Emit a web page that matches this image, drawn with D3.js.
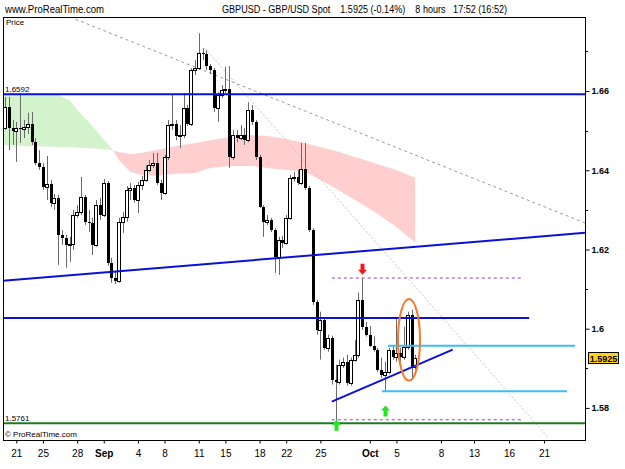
<!DOCTYPE html>
<html>
<head>
<meta charset="utf-8">
<script src="https://cdn.jsdelivr.net/npm/d3@7"></script>
<style>
body { margin: 0; background: #fff; }
svg { display: block; font-family: "Liberation Sans", Arial, sans-serif; }
text { white-space: pre; }
</style>
</head>
<body>
<svg id="chart" width="625" height="469"></svg>
<script>
// 8 hour GBPUSD candles, oldest first
var opens = [
  1.6507, 1.6560, 1.6507, 1.6499, 1.6507, 1.6504, 1.6509, 1.6517, 1.6471, 1.6418,
  1.6408, 1.6358, 1.6365, 1.6318, 1.6330, 1.6237, 1.6229, 1.6212, 1.6214, 1.6287,
  1.6295, 1.6333, 1.6270, 1.6268, 1.6212, 1.6312, 1.6287, 1.6368, 1.6166, 1.6128,
  1.6121, 1.6270, 1.6282, 1.6350, 1.6355, 1.6325, 1.6363, 1.6376, 1.6401, 1.6413,
  1.6418, 1.6368, 1.6343, 1.6434, 1.6514, 1.6517, 1.6487, 1.6489, 1.6557, 1.6517,
  1.6653, 1.6658, 1.6696, 1.6693, 1.6663, 1.6653, 1.6557, 1.6590, 1.6603, 1.6605,
  1.6434, 1.6489, 1.6481, 1.6489, 1.6476, 1.6552, 1.6522, 1.6434, 1.6307, 1.6270,
  1.6275, 1.6249, 1.6181, 1.6224, 1.6217, 1.6280, 1.6381, 1.6383, 1.6368, 1.6403,
  1.6355, 1.6249, 1.6068, 1.5997, 1.6022, 1.5952, 1.5977, 1.5871, 1.5866, 1.5909,
  1.5917, 1.5864, 1.5922, 1.5934, 1.6073, 1.6005, 1.5985, 1.5957, 1.5947, 1.5896,
  1.5884, 1.5891, 1.5947, 1.5929, 1.5939, 1.5929, 1.5954, 1.6035, 1.5904
];
var highs = [
  1.6585, 1.6585, 1.6527, 1.6522, 1.6595, 1.6527, 1.6545, 1.6547, 1.6481, 1.6451,
  1.6418, 1.6436, 1.6376, 1.6340, 1.6338, 1.6249, 1.6237, 1.6232, 1.6300, 1.6312,
  1.6383, 1.6338, 1.6300, 1.6280, 1.6325, 1.6330, 1.6378, 1.6373, 1.6179, 1.6144,
  1.6280, 1.6295, 1.6360, 1.6368, 1.6363, 1.6371, 1.6386, 1.6413, 1.6426, 1.6444,
  1.6444, 1.6376, 1.6439, 1.6527, 1.6590, 1.6527, 1.6514, 1.6595, 1.6565, 1.6658,
  1.6678, 1.6746, 1.6708, 1.6703, 1.6668, 1.6658, 1.6597, 1.6615, 1.6661, 1.6663,
  1.6502, 1.6502, 1.6514, 1.6507, 1.6572, 1.6565, 1.6527, 1.6439, 1.6312, 1.6287,
  1.6280, 1.6254, 1.6232, 1.6234, 1.6287, 1.6388, 1.6396, 1.6401, 1.6469, 1.6469,
  1.6360, 1.6254, 1.6073, 1.6043, 1.6027, 1.5985, 1.5982, 1.5909, 1.5922, 1.5927,
  1.5934, 1.5927, 1.5972, 1.6091, 1.6128, 1.6017, 1.6007, 1.5980, 1.5952, 1.5927,
  1.5917, 1.5952, 1.5957, 1.6027, 1.5952, 1.6005, 1.6043, 1.6048, 1.5934
];
var lows = [
  1.6502, 1.6451, 1.6464, 1.6421, 1.6469, 1.6481, 1.6492, 1.6464, 1.6413, 1.6401,
  1.6350, 1.6325, 1.6307, 1.6300, 1.6161, 1.6212, 1.6154, 1.6169, 1.6199, 1.6280,
  1.6287, 1.6262, 1.6244, 1.6186, 1.6207, 1.6275, 1.6282, 1.6159, 1.6116, 1.6113,
  1.6116, 1.6242, 1.6270, 1.6325, 1.6318, 1.6292, 1.6350, 1.6371, 1.6396, 1.6406,
  1.6363, 1.6325, 1.6338, 1.6426, 1.6502, 1.6476, 1.6456, 1.6481, 1.6512, 1.6512,
  1.6640, 1.6653, 1.6678, 1.6653, 1.6643, 1.6547, 1.6522, 1.6582, 1.6595, 1.6406,
  1.6426, 1.6471, 1.6476, 1.6464, 1.6471, 1.6514, 1.6426, 1.6305, 1.6232, 1.6262,
  1.6244, 1.6141, 1.6136, 1.6204, 1.6212, 1.6275, 1.6371, 1.6363, 1.6363, 1.6350,
  1.6244, 1.6060, 1.5985, 1.5922, 1.5947, 1.5942, 1.5859, 1.5761, 1.5859, 1.5901,
  1.5856, 1.5856, 1.5917, 1.5927, 1.5997, 1.5980, 1.5954, 1.5942, 1.5891, 1.5876,
  1.5841, 1.5886, 1.5922, 1.5917, 1.5917, 1.5922, 1.5947, 1.5871, 1.5896
];
var closes = [
  1.6560, 1.6507, 1.6499, 1.6507, 1.6504, 1.6509, 1.6517, 1.6471, 1.6418, 1.6408,
  1.6358, 1.6365, 1.6318, 1.6330, 1.6237, 1.6229, 1.6212, 1.6214, 1.6287, 1.6295,
  1.6333, 1.6270, 1.6268, 1.6212, 1.6312, 1.6287, 1.6368, 1.6166, 1.6128, 1.6121,
  1.6270, 1.6282, 1.6350, 1.6355, 1.6325, 1.6363, 1.6376, 1.6401, 1.6413, 1.6418,
  1.6368, 1.6343, 1.6434, 1.6514, 1.6517, 1.6487, 1.6489, 1.6557, 1.6517, 1.6653,
  1.6658, 1.6696, 1.6693, 1.6663, 1.6653, 1.6557, 1.6590, 1.6603, 1.6605, 1.6434,
  1.6489, 1.6481, 1.6489, 1.6476, 1.6552, 1.6522, 1.6434, 1.6307, 1.6270, 1.6275,
  1.6249, 1.6181, 1.6224, 1.6217, 1.6280, 1.6381, 1.6383, 1.6368, 1.6403, 1.6355,
  1.6249, 1.6068, 1.5997, 1.6022, 1.5952, 1.5977, 1.5871, 1.5866, 1.5909, 1.5917,
  1.5864, 1.5922, 1.5934, 1.6073, 1.6005, 1.5985, 1.5957, 1.5947, 1.5896, 1.5884,
  1.5891, 1.5947, 1.5929, 1.5939, 1.5929, 1.5954, 1.6035, 1.5904, 1.5925
];

// cloud (two spans), sampled at candle indices
var cloudIdx = [-0.5, 5, 10, 14, 17, 20, 23, 25, 28, 30, 33, 36, 40, 45, 50, 54, 59, 65, 69, 74, 79, 83, 88, 93, 98, 103, 108];
var spanA = [1.6595, 1.6595, 1.6595, 1.6590, 1.6577, 1.6542, 1.6512, 1.6489, 1.6456, 1.6426, 1.6396, 1.6388, 1.6386, 1.6391,
             1.6393, 1.6406, 1.6411, 1.6411, 1.6406, 1.6401, 1.6396, 1.6376, 1.6348, 1.6320, 1.6290, 1.6257, 1.6217];
var spanB = [1.6464, 1.6461, 1.6460, 1.6459, 1.6459, 1.6456, 1.6455, 1.6454, 1.6451, 1.6446, 1.6441, 1.6444, 1.6451, 1.6461,
             1.6469, 1.6476, 1.6484, 1.6489, 1.6487, 1.6479, 1.6469, 1.6459, 1.6446, 1.6431, 1.6416, 1.6401, 1.6381];

// time axis (candle index of each label; right part is future space)
var tickLabels = ["21", "25", "28", "Sep", "4", "8", "11", "15", "18", "22", "25", "Oct", "5", "8", "13", "16", "21"];
var tickIndex = [3, 10, 19, 26, 35, 42, 51, 58, 67, 74, 83, 96, 103, 114.7, 123.4, 132.6, 141.8];
var priceTicks = [1.58, 1.60, 1.62, 1.64, 1.66];
var priceMinor = [1.59, 1.61, 1.63, 1.65, 1.67];

// drawn objects: [index, price] end points
var topLevel = 1.6592, lowLevel = 1.5761, lastPrice = 1.5925;
var neckLine = [[-0.5, 1.6027], [137.9, 1.6027]];
var supportLine = [[-0.5, 1.6121], [152.6, 1.6242]];
var fallingLine = [[17.1, 1.6787], [152.6, 1.6267]];
var steepLine = [[52.6, 1.6708], [143.2, 1.5722]];
var triangleLine = [[86, 1.5816], [117.8, 1.5947]];
var rangeLines = [[[86, 1.6128], [136, 1.6128]], [[86, 1.5770], [136, 1.5770]]];
var cyanLines = [[[100.8, 1.5957], [150, 1.5957]], [[99.2, 1.5842], [147.9, 1.5842]]];
var downArrows = [[94, 1.6136]];
var upArrows = [[87, 1.5770], [100, 1.5806]];
var ellipseAt = [106.3, 1.5972], ellipseHalf = [2.9, 0.0103];

var svg = d3.select("#chart");
var L = 3, T = 17, R = 585, B = 440;

var x = d3.scaleLinear().domain([-0.5, 152.6]).range([L, R]);
var y = d3.scaleLinear().domain([1.5719, 1.6787]).range([B, T]);

svg.append("defs").append("clipPath").attr("id", "plotclip")
  .append("rect").attr("x", L).attr("y", T).attr("width", R - L).attr("height", B - T);

var plot = svg.append("g").attr("clip-path", "url(#plotclip)");

// cloud: green where span A is above span B, pink where below
var cloud = cloudIdx.map(function(d, k) { return {i: d, a: spanA[k], b: spanB[k]}; });
var defs = svg.select("defs");
defs.append("clipPath").attr("id", "aboveB").append("path")
  .attr("d", d3.area().x(function(d) { return x(d.i); }).y0(T).y1(function(d) { return y(d.b); })(cloud));
defs.append("clipPath").attr("id", "belowB").append("path")
  .attr("d", d3.area().x(function(d) { return x(d.i); }).y0(B).y1(function(d) { return y(d.b); })(cloud));
var band = d3.area().x(function(d) { return x(d.i); })
  .y0(function(d) { return y(d.a); }).y1(function(d) { return y(d.b); });
plot.append("g").attr("clip-path", "url(#aboveB)").append("path")
  .attr("d", band(cloud)).attr("fill", "#d3f3cd");
plot.append("g").attr("clip-path", "url(#belowB)").append("path")
  .attr("d", band(cloud)).attr("fill", "#ffcece");

function seg(g, pts, color, width, dash) {
  g.append("line")
    .attr("x1", x(pts[0][0])).attr("y1", y(pts[0][1]))
    .attr("x2", x(pts[1][0])).attr("y2", y(pts[1][1]))
    .attr("stroke", color).attr("stroke-width", width)
    .attr("stroke-dasharray", dash || null);
}

seg(plot, fallingLine, "#9a9a9a", 1, "3,3");
seg(plot, steepLine, "#c4c4c4", 1, "2,2");

// candles
var candles = closes.map(function(c, i) {
  return {i: i, o: opens[i], h: highs[i], l: lows[i], c: c};
});
var cg = plot.append("g");
cg.selectAll("line").data(candles).enter().append("line")
  .attr("x1", function(d) { return Math.round(x(d.i)) + 0.5; })
  .attr("x2", function(d) { return Math.round(x(d.i)) + 0.5; })
  .attr("y1", function(d) { return y(d.h); })
  .attr("y2", function(d) { return y(d.l); })
  .attr("stroke", "#6a6a6a").attr("stroke-width", 1);
cg.selectAll("rect").data(candles).enter().append("rect")
  .each(function(d) {
    var cx = Math.round(x(d.i));
    var top = Math.round(y(Math.max(d.o, d.c))), bot = Math.round(y(Math.min(d.o, d.c)));
    var r = d3.select(this);
    if (d.c >= d.o) {
      r.attr("x", cx - 1.5).attr("y", top + 0.5).attr("width", 4 - 1)
        .attr("height", Math.max(bot - top, 1))
        .attr("fill", "#fff").attr("stroke", "#000").attr("stroke-width", 1);
    } else {
      r.attr("x", cx - 1).attr("y", top).attr("width", 3)
        .attr("height", Math.max(bot - top, 1)).attr("fill", "#000");
    }
  });

// lines over candles
var blue = "#0a10d8";
seg(plot, [[-0.5, topLevel], [152.6, topLevel]], blue, 2);
seg(plot, neckLine, blue, 2);
seg(plot, supportLine, blue, 2);
seg(plot, [[-0.5, lowLevel], [152.6, lowLevel]], "#1d7a1d", 2);
rangeLines.forEach(function(p) { seg(plot, p, "#9a3ad6", 1, "3,3"); });
cyanLines.forEach(function(p) { seg(plot, p, "#3dbdf0", 2); });
seg(plot, triangleLine, blue, 2);

plot.append("ellipse")
  .attr("cx", x(ellipseAt[0])).attr("cy", y(ellipseAt[1]))
  .attr("rx", x(ellipseAt[0] + ellipseHalf[0]) - x(ellipseAt[0]))
  .attr("ry", y(ellipseAt[1] - ellipseHalf[1]) - y(ellipseAt[1]))
  .attr("fill", "none").attr("stroke", "#f4792f").attr("stroke-width", 2);

// arrows: tip at the given price, 11px long
function arrow(p, dir, color) {
  var cx = Math.round(x(p[0])) + 0.5, tip = y(p[1]);
  var s = -dir; // body goes away from tip
  var pts = [[cx, tip], [cx - 4.5, tip + s * 5], [cx - 2, tip + s * 5], [cx - 2, tip + s * 11],
             [cx + 2, tip + s * 11], [cx + 2, tip + s * 5], [cx + 4.5, tip + s * 5]];
  plot.append("path").attr("d", "M" + pts.join("L") + "Z").attr("fill", color);
}
downArrows.forEach(function(p) { arrow(p, 1, "#f01818"); });
upArrows.forEach(function(p) { arrow(p, -1, "#22e622"); });

// frame
svg.append("rect").attr("x", L + 0.5).attr("y", T + 0.5).attr("width", R - L).attr("height", B - T)
  .attr("fill", "none").attr("stroke", "#000");

// level labels
[topLevel, lowLevel].forEach(function(v) {
  svg.append("text").attr("x", 5).attr("y", y(v) - 2.5).attr("font-size", 8).text(d3.format(".4f")(v));
});

// price axis
var yAxis = svg.append("g").attr("transform", "translate(" + (R + 0.5) + ",0)")
  .call(d3.axisRight(y).tickValues(priceTicks).tickSize(4).tickPadding(2)
    .tickFormat(function(d) { return String(+d.toFixed(2)); }));
yAxis.select(".domain").remove();
yAxis.selectAll("text").attr("font-size", 9).attr("font-weight", "bold").attr("font-family", null).attr("fill", "#000");
svg.append("g").selectAll("line").data(priceMinor).enter().append("line")
  .attr("x1", R).attr("x2", R + 3)
  .attr("y1", function(d) { return Math.round(y(d)) + 0.5; })
  .attr("y2", function(d) { return Math.round(y(d)) + 0.5; })
  .attr("stroke", "#000");

// last price box
var lp = y(lastPrice);
svg.append("rect").attr("x", 588.5).attr("y", Math.round(lp) - 5.5).attr("width", 30).attr("height", 11)
  .attr("fill", "#ffd21a").attr("stroke", "#000");
svg.append("text").attr("x", 603.5).attr("y", Math.round(lp) + 3.5).attr("text-anchor", "middle")
  .attr("font-size", 9).attr("font-weight", "bold").text(d3.format(".4f")(lastPrice));

// time axis
var xAxis = svg.append("g").attr("transform", "translate(0," + (B + 0.5) + ")")
  .call(d3.axisBottom(x).tickValues(tickIndex).tickSize(3).tickPadding(6)
    .tickFormat(function(d, k) { return tickLabels[k]; }));
xAxis.select(".domain").remove();
xAxis.selectAll("text").attr("font-size", 10).attr("font-family", null).attr("fill", "#000")
  .attr("font-weight", function(d, k) { return isNaN(+tickLabels[k]) ? "bold" : null; });

// header and captions
svg.append("text").attr("x", 5).attr("y", 13).attr("font-size", 10)
  .attr("textLength", 99).attr("lengthAdjust", "spacingAndGlyphs").text("www.ProRealTime.com");
svg.append("text").attr("x", 222).attr("y", 13).attr("font-size", 10)
  .attr("textLength", 285).attr("lengthAdjust", "spacingAndGlyphs")
  .text("GBPUSD - GBP/USD Spot    1.5925 (-0.14%)    8 hours   17:52 (16:52)");
svg.append("text").attr("x", 6).attr("y", 25).attr("font-size", 8).text("Price");
svg.append("text").attr("x", 5).attr("y", 437).attr("font-size", 8).text("\u00a9 ProRealTime.com");
</script>
</body>
</html>
